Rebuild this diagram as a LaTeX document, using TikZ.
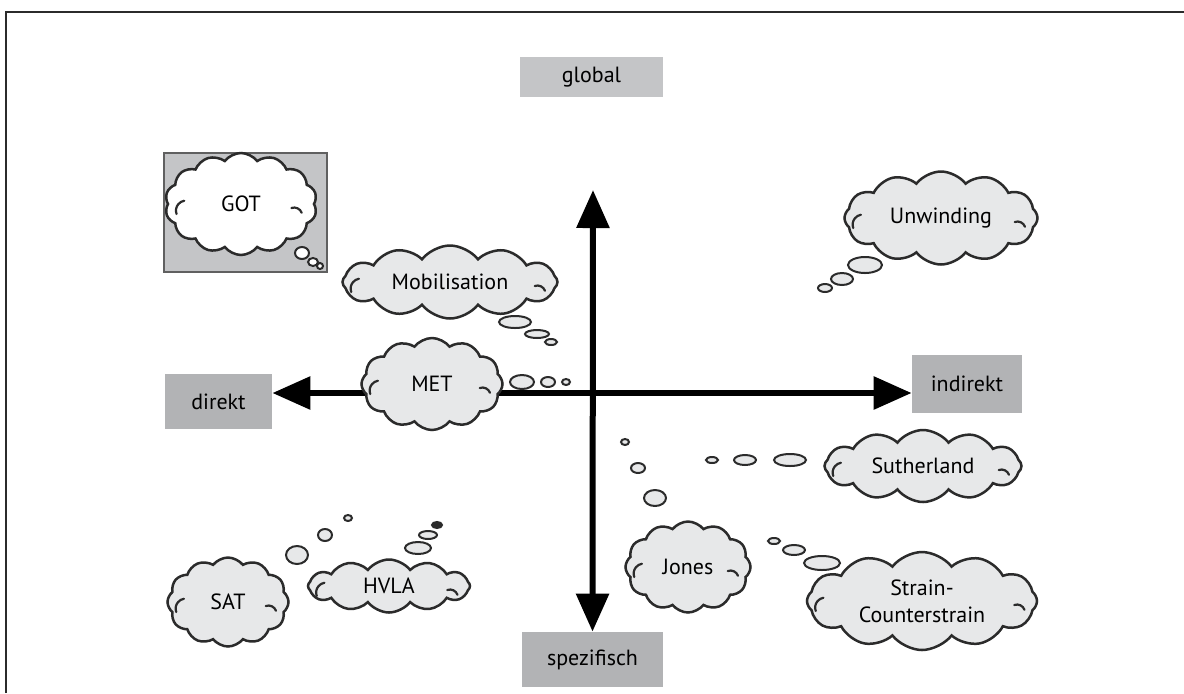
\documentclass[tikz,border=0pt]{standalone}
\usepackage{fontspec}
\setmainfont{PT Sans}
\usetikzlibrary{shapes.symbols,arrows.meta}
\definecolor{boxgray}{HTML}{B2B3B5}
\definecolor{lightbox}{HTML}{C4C5C7}
\definecolor{cloudfill}{HTML}{E7E8E9}
\definecolor{inkgray}{HTML}{2B2B2B}
\tikzset{
  label box/.style={rectangle,fill=boxgray,inner sep=0pt},
  thought/.style={cloud,cloud puffs=12,cloud puff arc=105,cloud ignores aspect,
    draw=inkgray,line width=1.25pt,fill=cloudfill,inner sep=0pt},
  bubble/.style={draw=inkgray,line width=1pt,fill=cloudfill},
  hook/.style={draw=inkgray,line width=1.1pt,line cap=round},
  axis/.style={line width=3pt,
    {Triangle[width=16pt,length=19pt]}-{Triangle[width=16pt,length=19pt]}},
}
\begin{document}
\begin{tikzpicture}[x=0.5pt,y=-0.5pt,font=\fontsize{11}{13.5}\selectfont]
  \useasboundingbox (0,0) rectangle (1184,693);
  \draw[line width=1pt,inkgray] (6,693) -- (6,12) -- (1184,12);

  \begin{scope}[every node/.style={label box}]
    \node[fill=lightbox,minimum width=71.5pt,minimum height=20pt] (global) at (591.5,77) {global};
    \node[minimum width=53.5pt,minimum height=27.5pt] (direkt) at (218.5,401.5) {direkt};
    \node[minimum width=55pt,minimum height=29pt] (indirekt) at (967,384) {indirekt};
    \node[minimum width=70.5pt,minimum height=27.5pt] (spezifisch) at (592.5,659.5) {spezifisch};
  \end{scope}

  \coordinate (cross) at (593,393);
  \coordinate (top) at (593,190);
  \draw[axis] (direkt.east |- cross) -- (indirekt.west |- cross);
  \draw[axis] (top) -- (spezifisch.north);

  \node[draw=gray!75!black,line width=1.2pt,fill=lightbox,minimum width=81.5pt,
    minimum height=59.5pt] (gotbox) at (245.5,212.5) {};

  \begin{scope}[every node/.style={thought}]
    \node[fill=white,cloud puffs=14,minimum width=76pt,minimum height=51pt] (got) at (241,204) {GOT};
    \node[minimum width=107.5pt,minimum height=36.5pt] (mobil) at (450,282) {Mobilisation};
    \node[minimum width=70.5pt,minimum height=46pt] (met) at (432,384) {MET};
    \node[minimum width=96.5pt,minimum height=46.5pt] (unwind) at (941,218) {Unwinding};
    \node[minimum width=98.5pt,minimum height=36pt] (suther) at (923,466) {Sutherland};
    \node[minimum width=62.5pt,minimum height=45.5pt] (jones) at (688,567) {Jones};
    \node[minimum width=115pt,minimum height=49pt,align=center] (strain) at (922,601) {Strain-\\Counterstrain};
    \node[minimum width=60.5pt,minimum height=44.5pt] (sat) at (228,602) {SAT};
    \node[minimum width=81pt,minimum height=26.5pt] (hvla) at (389,586) {HVLA};
  \end{scope}

  \foreach \c in {got,mobil,met,unwind,suther,jones,strain,sat,hvla} {
    \draw[hook] ([shift={(10,10)}]\c.west) arc[start angle=200,end angle=100,radius=5pt];
    \draw[hook] ([shift={(-24,4)}]\c.east) arc[start angle=110,end angle=20,radius=4pt];
  }

  \foreach \x/\y/\a/\b in {302/253/7/6,313/262/5/4,320/266/3/3}
    \draw[bubble,fill=white] (\x,\y) ellipse [x radius=\a, y radius=\b];
  \foreach \x/\y/\a/\b in {515/322/16/6,537/334/12/4,551/342/6/3,
      522/382/12/7,548/382/7/5,566/382/4/3,
      865/265/17/8,842/279/11/6,825/288/7/4,
      790/460/16/6,745/460/11/5,712/460/6/3,
      655/498/11/8,638/468/7/5,625/442/4/3,
      822/563/18/7,794/550/11/5,774/541/6/3,
      297/555/11/9,325/535/7/6,348/518/4/3,
      418/548/13/6,428/535/9/4}
    \draw[bubble] (\x,\y) ellipse [x radius=\a, y radius=\b];
  \draw[bubble,fill=inkgray] (437,525) ellipse [x radius=5, y radius=3];
\end{tikzpicture}
\end{document}
